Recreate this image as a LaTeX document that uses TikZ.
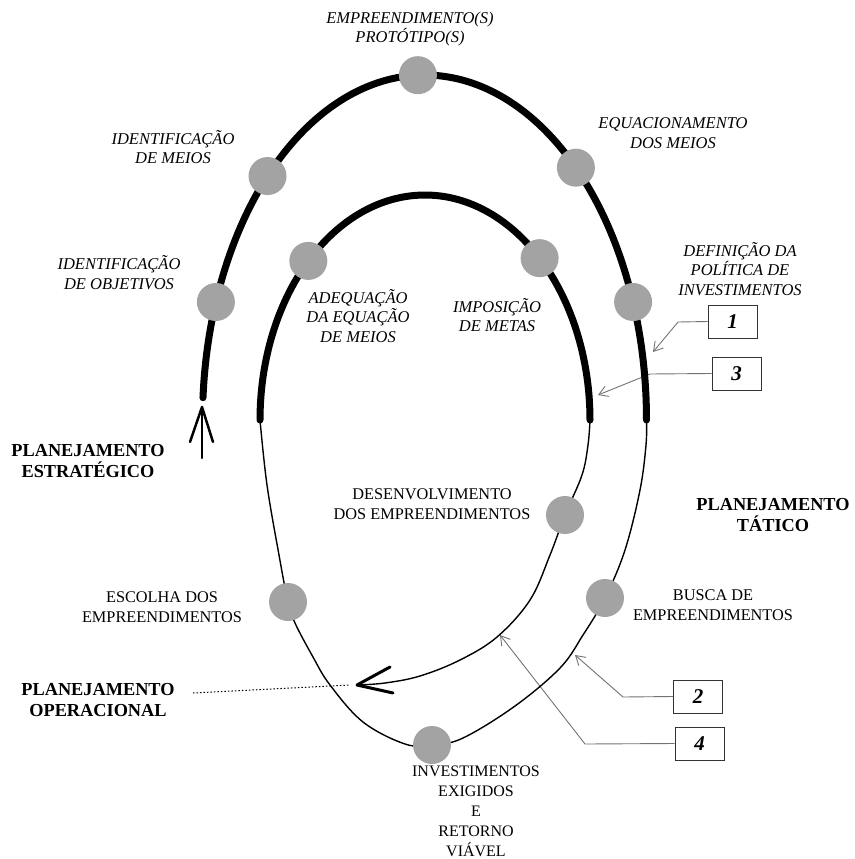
\documentclass[tikz,border=0pt]{standalone}
\usepackage{fontspec}
\setmainfont{Liberation Serif}
\usetikzlibrary{arrows.meta}
\begin{document}
\begin{tikzpicture}[x=1pt,y=-1pt,
  heavyline/.style={line width=7pt, line cap=round},
  thinline/.style={line width=1.4pt},
  dotball/.style={circle, fill=black!36, minimum size=38pt, inner sep=0pt},
  lblit/.style={align=center, font=\fontsize{16.5}{19.8}\selectfont\itshape},
  lblrm/.style={align=center, font=\fontsize{16.3}{19.5}\selectfont},
  lblbf/.style={align=center, font=\fontsize{18.3}{21.5}\selectfont\bfseries},
  numbox/.style={draw=black!80, line width=0.9pt, fill=white, minimum width=49pt, minimum height=33pt, inner sep=0pt, font=\fontsize{21}{21}\selectfont\bfseries\itshape},
  leader/.style={draw=black!55, line width=0.9pt, -{Straight Barb[length=9pt,width=11pt,line width=0.9pt]}},
  bigbarb/.style={line width=3pt, line cap=round, line join=round}
]
\useasboundingbox (0,0) rectangle (854,859);

% outer ellipse: centre (424.5,420), radii 222 x 345 ; inner: centre (425,420), radii 165 x 225
\coordinate (p-top) at ({424.5+222*cos(268.3)},{420+345*sin(268.3)});
\coordinate (p-meios) at ({424.5+222*cos(225)},{420+345*sin(225)});
\coordinate (p-obj) at ({424.5+222*cos(200)},{420+345*sin(200)});
\coordinate (p-equac) at ({424.5+222*cos(313)},{420+345*sin(313)});
\coordinate (p-defin) at ({424.5+222*cos(340)},{420+345*sin(340)});
\coordinate (p-adeq) at ({425+165*cos(225)},{420+225*sin(225)});
\coordinate (p-impos) at ({425+165*cos(314)},{420+225*sin(314)});
\coordinate (p-desenv) at (565,515);
\coordinate (p-busca) at (605,598);
\coordinate (p-escolha) at (288,602);
\coordinate (p-invest) at (432,745);

% ends
\coordinate (o-start) at ({424.5+222*cos(183.7)},{420+345*sin(183.7)});
\coordinate (o-end) at (646.5,420);
\coordinate (i-start) at (260,420);
\coordinate (i-end) at (590,420);
\coordinate (bigtip) at (357,685);
\coordinate (uptip) at (202,407);

% number boxes
\node[numbox] (b1) at (732.5,321.5) {1};
\node[numbox] (b3) at (736.5,373.5) {3};
\node[numbox] (b2) at (698,696.5) {2};
\node[numbox] (b4) at (699.5,743.5) {4};

\coordinate (c1bend) at (678,322);
\coordinate (c1tip) at (653,352);
\coordinate (c3bend) at (650,374);
\coordinate (c3tip) at (598,395);
\coordinate (c2bend) at (623,697);
\coordinate (c2tip) at (575,655);
\coordinate (c4bend) at (585,744);
\coordinate (c4tip) at (500,635);

\draw[leader] (b1.west) -- (c1bend) -- (c1tip);
\draw[leader] (b3.west) -- (c3bend) -- (c3tip);
\draw[leader] (b2.west) -- (c2bend) -- (c2tip);
\draw[leader] (b4.west) -- (c4bend) -- (c4tip);

% thin spiral parts
\draw[thinline] plot[smooth, tension=0.6] coordinates {(o-end) (646,445) (640,490) (625,550) (p-busca) (583,635) (560,668) (515,706) (463,738) (p-invest) (405,744) (363,722) (330,685) (313,657) (295,623) (p-escolha) (279,555) (267,485) (i-start)};
\draw[thinline] plot[smooth, tension=0.6] coordinates {(i-end) (588,445) (582,475) (p-desenv) (550,555) (530,600) (497,637) (460,660) (420,676) (385,683) (bigtip)};

% thick arcs (upper halves of ellipses)
\draw[heavyline] plot[domain=183.7:360, samples=90, smooth] ({424.5+222*cos(\x)},{420+345*sin(\x)});
\draw[heavyline] plot[domain=180:360, samples=80, smooth] ({425+165*cos(\x)},{420+225*sin(\x)});

% arrows
\draw[bigbarb] (390,667) -- (bigtip) -- (393,693);
\draw[line width=2.5pt, line cap=round, line join=round] (190,442) -- (uptip) -- (213,442);
\draw[line width=2.5pt, line cap=round] (uptip) -- (202,458);

% dots
\foreach \p in {p-top,p-meios,p-obj,p-adeq,p-equac,p-impos,p-defin,p-desenv,p-busca,p-escolha,p-invest}
  \node[dotball] (d-\p) at (\p) {};

% labels
\node[lblit] (l-top) at (410,29) {EMPREENDIMENTO(S)\\PROTÓTIPO(S)};
\node[lblit] (l-meios) at (173,147) {IDENTIFICAÇÃO\\DE MEIOS};
\node[lblit] (l-obj) at (119,273) {IDENTIFICAÇÃO\\DE OBJETIVOS};
\node[lblit] (l-adeq) at (358,316) {ADEQUAÇÃO\\DA EQUAÇÃO\\DE MEIOS};
\node[lblit] (l-equac) at (673,133) {EQUACIONAMENTO\\DOS MEIOS};
\node[lblit] (l-impos) at (497,315) {IMPOSIÇÃO\\DE METAS};
\node[lblit] (l-defin) at (740,269) {DEFINIÇÃO DA\\POLÍTICA DE\\INVESTIMENTOS};
\node[lblbf] (l-estrat) at (88,461) {PLANEJAMENTO\\ESTRATÉGICO};
\node[lblrm] (l-desenv) at (432,504) {DESENVOLVIMENTO\\DOS EMPREENDIMENTOS};
\node[lblbf] (l-tatico) at (773,515) {PLANEJAMENTO\\TÁTICO};
\node[lblrm] (l-escolha) at (162,607) {ESCOLHA DOS\\EMPREENDIMENTOS};
\node[lblrm] (l-busca) at (713,605) {BUSCA DE\\EMPREENDIMENTOS};
\node[lblbf] (l-operac) at (98,700) {PLANEJAMENTO\\OPERACIONAL};
\node[lblrm, font=\fontsize{16}{20}\selectfont] (l-invest) at (476,811) {INVESTIMENTOS\\EXIGIDOS\\E\\RETORNO\\VIÁVEL};

\coordinate (dotstart) at (193,693);
\coordinate (dotend) at (350,685);
\draw[line width=1pt, dash pattern=on 1.5pt off 2pt] (dotstart) -- (dotend);
\end{tikzpicture}
\end{document}
